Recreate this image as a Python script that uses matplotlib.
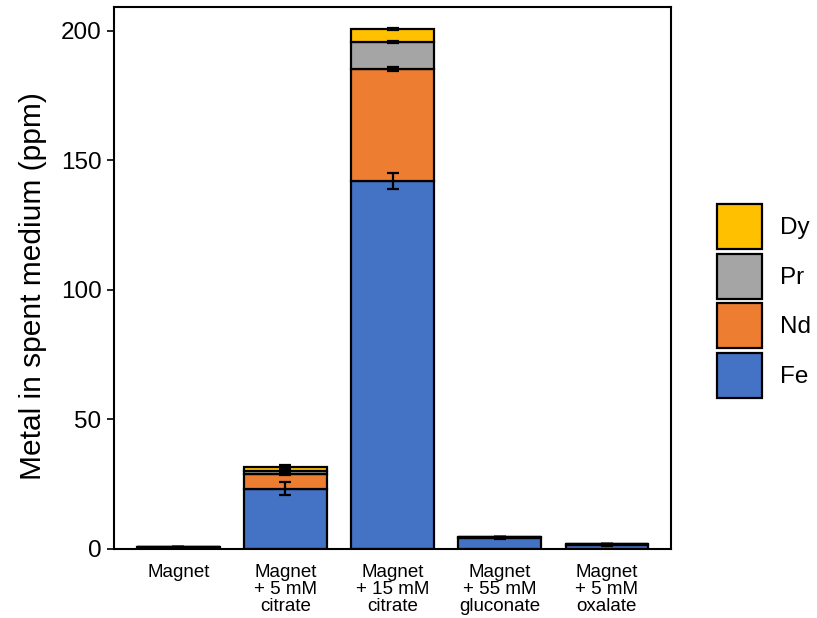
import numpy as np
import matplotlib
matplotlib.use('Agg')
import matplotlib.pyplot as plt
from matplotlib.patches import Patch

plt.rcParams['font.family'] = ['Liberation Sans', 'DejaVu Sans']

# metal concentrations in spent medium (ppm)
treatments = ['Magnet', 'Magnet\n+ 5 mM\ncitrate', 'Magnet\n+ 15 mM\ncitrate',
              'Magnet\n+ 55 mM\ngluconate', 'Magnet\n+ 5 mM\noxalate']
fe = [0.5, 23.2, 142.0, 4.3, 1.5]
nd = [0.1, 5.8, 43.3, 0.2, 0.2]
pr = [0.05, 1.2, 10.4, 0.05, 0.05]
dy = [0.05, 1.5, 5.1, 0.05, 0.05]
fe_err = [0.2, 2.5, 3.0, 0.4, 0.3]
nd_err = [0.05, 0.4, 0.6, 0.05, 0.05]
pr_err = [0.02, 0.3, 0.3, 0.02, 0.02]
dy_err = [0.02, 0.6, 0.4, 0.02, 0.02]

metals = ['Fe', 'Nd', 'Pr', 'Dy']
colors = {'Fe': '#4472C4', 'Nd': '#ED7D31', 'Pr': '#A5A5A5', 'Dy': '#FFC000'}
series = {'Fe': (fe, fe_err), 'Nd': (nd, nd_err), 'Pr': (pr, pr_err), 'Dy': (dy, dy_err)}

fig = plt.figure(figsize=(8.17, 6.18), dpi=100)
ax = fig.add_axes([0.1395, 0.112, 0.682, 0.877])

x = np.arange(len(treatments))
bottom = np.zeros(len(treatments))
for m in metals:
    vals, errs = series[m]
    vals = np.array(vals)
    ax.bar(x, vals, width=0.77, bottom=bottom, color=colors[m],
           edgecolor='black', linewidth=1.6, zorder=2)
    top = bottom + vals
    ax.errorbar(x, top, yerr=errs, fmt='none', ecolor='black',
                elinewidth=1.6, capsize=4, capthick=1.6, zorder=3)
    bottom = top

ax.set_xlim(-0.6, 4.6)
ax.set_ylim(0, 209.3)
ax.set_yticks([0, 50, 100, 150, 200])
ax.set_xticks(x)
ax.set_xticklabels(treatments, fontsize=13.5, linespacing=0.98)
ax.tick_params(axis='y', labelsize=17.5, length=5, width=1.2, pad=4)
ax.tick_params(axis='x', length=0, pad=11)
ax.set_ylabel('Metal in spent medium (ppm)', fontsize=21.5)
ax.yaxis.set_label_coords(-0.12, 0.485)
for s in ax.spines.values():
    s.set_linewidth(1.5)

handles = [Patch(facecolor=colors[m], edgecolor='black', linewidth=1.6, label=m)
           for m in reversed(metals)]
fig.legend(handles=handles, loc='center left', bbox_to_anchor=(0.877, 0.513),
           frameon=False, fontsize=17.5, handlelength=1.88, handleheight=2.45,
           labelspacing=0.2, handletextpad=0.75, borderaxespad=0, borderpad=0)

fig.savefig('out.png', dpi=100)
